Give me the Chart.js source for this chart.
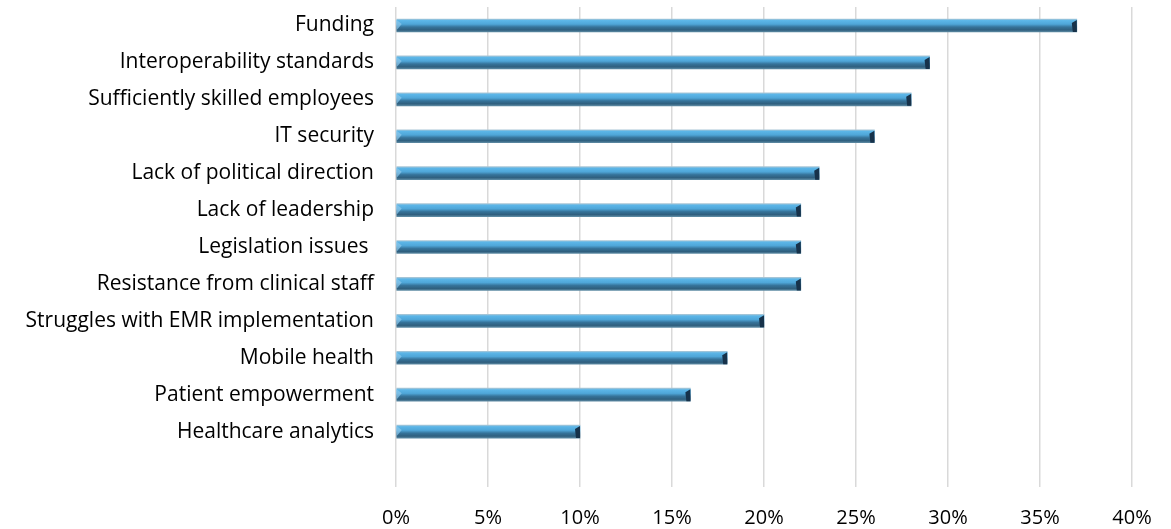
<!DOCTYPE html>
<html>
<head>
<meta charset="utf-8">
<script src="https://cdn.jsdelivr.net/npm/chart.js@4"></script>
<style>
    html, body { margin: 0; padding: 0; background: #fff; }
    #wrap { width: 1171px; height: 529px; }
</style>
</head>
<body>
<div id="wrap"><canvas id="barriersChart" width="1171" height="529"></canvas></div>
<script>
// last label is an empty slot, leaves a gap under the bottom bar
const categories = [
    "Funding",
    "Interoperability standards",
    "Sufficiently skilled employees",
    "IT security",
    "Lack of political direction",
    "Lack of leadership",
    "Legislation issues ",
    "Resistance from clinical staff",
    "Struggles with EMR implementation",
    "Mobile health",
    "Patient empowerment",
    "Healthcare analytics",
    ""
];
const shares = [37, 29, 28, 26, 23, 22, 22, 22, 20, 18, 16, 10, null];
const xTicks = [0, 5, 10, 15, 20, 25, 30, 35, 40];

const FONT = "'Open Sans', sans-serif";
const BAR_H = 13;

// vertical gradient for one bar row, gives the rounded tube look
function tubeFill(c) {
    const chart = c.chart;
    const yScale = chart.scales.y;
    if (!yScale || !chart.chartArea) return "#4fa6d8";
    const cy = yScale.getPixelForValue(c.dataIndex);
    const top = cy - BAR_H / 2;
    const g = chart.ctx.createLinearGradient(0, top, 0, top + BAR_H);
    g.addColorStop(0, "#a9c6d6");
    g.addColorStop(0.12, "#5cb6e8");
    g.addColorStop(0.4, "#4fa6d8");
    g.addColorStop(0.62, "#36739a");
    g.addColorStop(0.85, "#2f5f7e");
    g.addColorStop(1, "#5d8aa3");
    return g;
}

// dark cap on the value end, small light bevel at the base
const tubeEnds = {
    id: "tubeEnds",
    afterDatasetsDraw(chart) {
        const ctx = chart.ctx;
        chart.getDatasetMeta(0).data.forEach((bar, i) => {
            if (shares[i] == null) return;
            const h = bar.height;
            const top = bar.y - h / 2;
            ctx.save();
            ctx.fillStyle = "#17324a";
            ctx.beginPath();
            ctx.moveTo(bar.x, top + 1);
            ctx.lineTo(bar.x, top + h);
            ctx.lineTo(bar.x - 4, top + h);
            ctx.lineTo(bar.x - 5, top + 4);
            ctx.closePath();
            ctx.fill();
            ctx.fillStyle = "rgba(140, 200, 235, 0.7)";
            ctx.beginPath();
            ctx.moveTo(bar.base, top + 1);
            ctx.lineTo(bar.base + 5, top + 5);
            ctx.lineTo(bar.base, top + h - 2);
            ctx.closePath();
            ctx.fill();
            ctx.restore();
        });
    }
};

new Chart(document.getElementById("barriersChart"), {
    type: "bar",
    data: {
        labels: categories,
        datasets: [{
            data: shares,
            backgroundColor: tubeFill,
            borderWidth: 0,
            barThickness: BAR_H
        }]
    },
    options: {
        indexAxis: "y",
        responsive: false,
        animation: false,
        layout: { padding: { top: 7, right: 39, left: 0, bottom: 0 } },
        plugins: {
            legend: { display: false },
            tooltip: { enabled: false }
        },
        scales: {
            x: {
                min: 0,
                max: 40,
                afterBuildTicks: scale => {
                    scale.ticks = xTicks.map(v => ({ value: v }));
                },
                afterFit: scale => { scale.height = 42; },
                grid: { color: "#d9d9d9", lineWidth: 1.5, drawTicks: false },
                border: { display: false },
                ticks: {
                    padding: 19,
                    color: "#000",
                    font: { family: FONT, size: 20 },
                    callback: v => v + "%"
                }
            },
            y: {
                afterFit: scale => {
                    scale.width = 396;
                    scale.paddingTop = 0;
                    scale.paddingBottom = 0;
                },
                grid: { display: false },
                border: { display: false },
                ticks: {
                    padding: 14,
                    color: "#000",
                    autoSkip: false,
                    font: { family: FONT, size: 21 }
                }
            }
        }
    },
    plugins: [tubeEnds]
});
</script>
</body>
</html>
